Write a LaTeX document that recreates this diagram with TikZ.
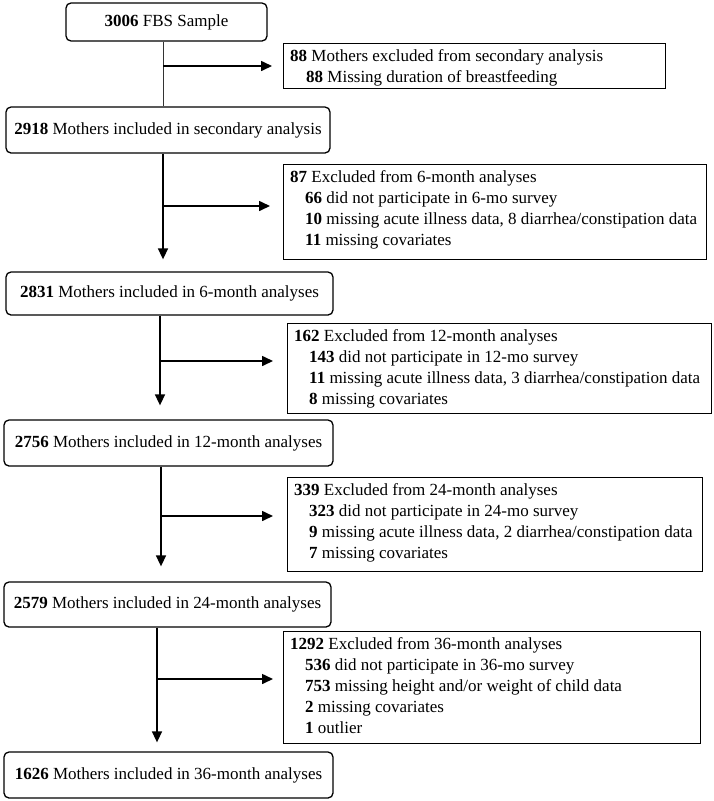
\documentclass[tikz,border=0pt]{standalone}
\usepackage{fontspec}
\setmainfont{Liberation Serif}
\usetikzlibrary{arrows.meta,calc}
\begin{document}
\begin{tikzpicture}[x=1pt,y=-1pt,
  txt/.style={font=\fontsize{17}{21}\selectfont},
  mainbox/.style={draw, line width=1.3pt, rounded corners=5pt, inner sep=0pt, txt},
  sidebox/.style={draw, line width=1.3pt, inner sep=0pt, anchor=north west},
  sidetext/.style={txt, align=left, inner sep=0pt, anchor=north west},
  arr/.style={line width=1.6pt, -{Triangle[length=11pt,width=10pt]}},
  thinline/.style={line width=0.8pt, black!80}]
\useasboundingbox (0,0) rectangle (714,801);

% main column
\node[mainbox, minimum width=201pt, minimum height=38pt] (A) at (166.5,22) {\textbf{3006} FBS Sample};
\node[mainbox, minimum width=324pt, minimum height=46pt] (B) at (168,130) {\textbf{2918} Mothers included in secondary analysis};
\node[mainbox, minimum width=327pt, minimum height=43pt] (C) at (169.5,293.5) {\textbf{2831} Mothers included in 6-month analyses};
\node[mainbox, minimum width=329pt, minimum height=46pt] (D) at (168.5,443) {\textbf{2756} Mothers included in 12-month analyses};
\node[mainbox, minimum width=327pt, minimum height=45pt] (E) at (167.5,604.5) {\textbf{2579} Mothers included in 24-month analyses};
\node[mainbox, minimum width=329pt, minimum height=46pt] (F) at (168.5,775) {\textbf{1626} Mothers included in 36-month analyses};

% side boxes
\node[sidebox, minimum width=382pt, minimum height=45pt] (s1) at (283,43) {};
\node[sidetext] (t1) at (290,49.5) {\textbf{88} Mothers excluded from secondary analysis\\
\hspace*{16pt}\textbf{88} Missing duration of breastfeeding};

\node[sidebox, minimum width=423pt, minimum height=95pt] (s2) at (283,164) {};
\node[sidetext] (t2) at (290,170.5) {\textbf{87} Excluded from 6-month analyses\\
\hspace*{15pt}\textbf{66} did not participate in 6-mo survey\\
\hspace*{15pt}\textbf{10} missing acute illness data, 8 diarrhea/constipation data\\
\hspace*{15pt}\textbf{11} missing covariates};

\node[sidebox, minimum width=424pt, minimum height=90pt] (s3) at (287,323) {};
\node[sidetext] (t3) at (294,329.5) {\textbf{162} Excluded from 12-month analyses\\
\hspace*{15pt}\textbf{143} did not participate in 12-mo survey\\
\hspace*{15pt}\textbf{11} missing acute illness data, 3 diarrhea/constipation data\\
\hspace*{15pt}\textbf{8} missing covariates};

\node[sidebox, minimum width=415pt, minimum height=94pt] (s4) at (287,477) {};
\node[sidetext] (t4) at (294,483.5) {\textbf{339} Excluded from 24-month analyses\\
\hspace*{15pt}\textbf{323} did not participate in 24-mo survey\\
\hspace*{15pt}\textbf{9} missing acute illness data, 2 diarrhea/constipation data\\
\hspace*{15pt}\textbf{7} missing covariates};

\node[sidebox, minimum width=417pt, minimum height=112pt] (s5) at (283,631) {};
\node[sidetext] (t5) at (290,637.5) {\textbf{1292} Excluded from 36-month analyses\\
\hspace*{15pt}\textbf{536} did not participate in 36-mo survey\\
\hspace*{15pt}\textbf{753} missing height and/or weight of child data\\
\hspace*{15pt}\textbf{2} missing covariates\\
\hspace*{15pt}\textbf{1} outlier};

% junctions
\coordinate (j1) at (163,66);
\coordinate (j2) at (163,206);
\coordinate (j3) at (160,361);
\coordinate (j4) at (161,516);
\coordinate (j5) at (157,679);

% connectors
\draw[thinline] (j1 |- A.south) -- (j1 |- B.north);
\draw[arr, shorten >=11pt] (j1) -- (j1 -| s1.west);

\draw[arr, shorten >=12pt] (j2 |- B.south) -- (j2 |- C.north);
\draw[arr, shorten >=13pt] (j2) -- (j2 -| s2.west);

\draw[arr, shorten >=14pt] (j3 |- C.south) -- (j3 |- D.north);
\draw[arr, shorten >=14pt] (j3) -- (j3 -| s3.west);

\draw[arr, shorten >=15pt] (j4 |- D.south) -- (j4 |- E.north);
\draw[arr, shorten >=14pt] (j4) -- (j4 -| s4.west);

\draw[arr, shorten >=9pt] (j5 |- E.south) -- (j5 |- F.north);
\draw[arr, shorten >=10pt] (j5) -- (j5 -| s5.west);
\end{tikzpicture}
\end{document}
